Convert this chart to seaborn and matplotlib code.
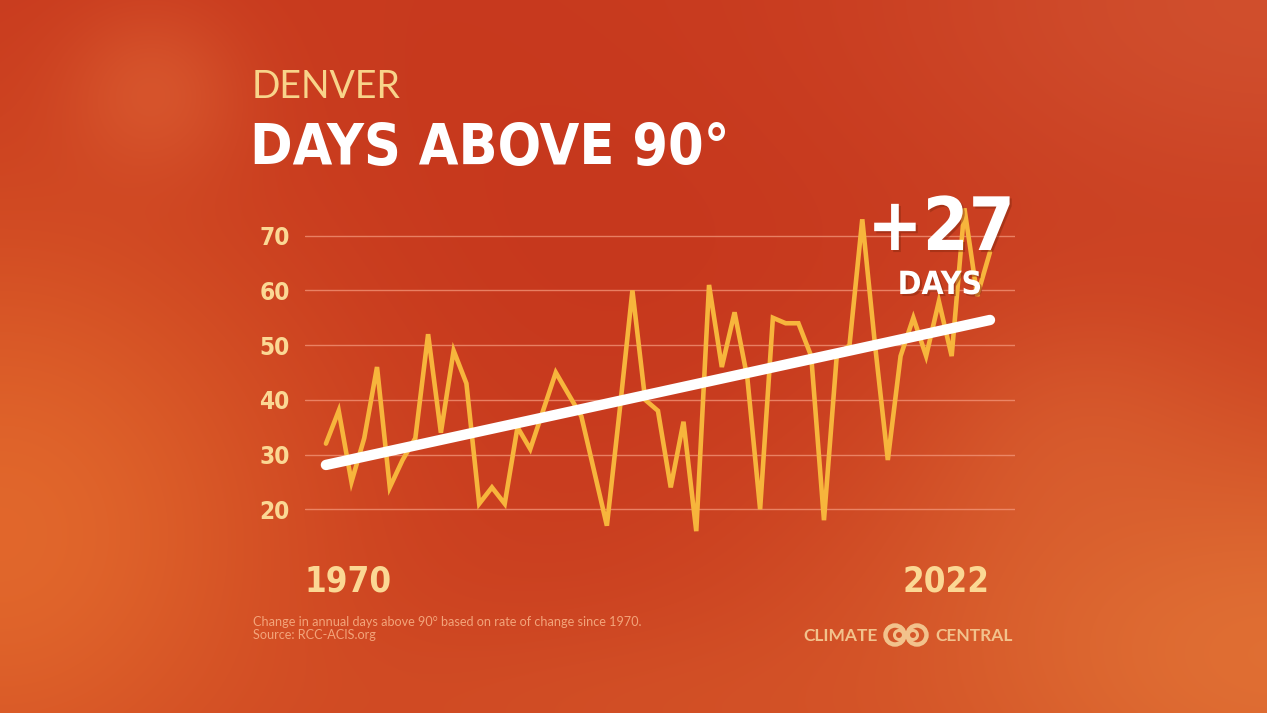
import numpy as np
import pandas as pd
import matplotlib
matplotlib.use("Agg")
import matplotlib.pyplot as plt
import seaborn as sns
from matplotlib import patheffects as pe
from matplotlib.patches import Circle

# ---------------- data ----------------
years = list(range(1970, 2023))
days = [32, 38, 25, 33, 46, 24, 29, 33, 52, 34,
        49, 43, 21, 24, 21, 35, 31, 38, 45, 41,
        37, 27, 17, 38, 60, 40, 38, 24, 36, 16,
        61, 46, 56, 44, 20, 55, 54, 54, 48, 18,
        48, 50, 73, 50, 29, 48, 55, 48, 58, 48,
        75, 59, 67]
trend_years = [1970, 2022]
trend_days = [28.1, 54.6]
y_ticks = [20, 30, 40, 50, 60, 70]
x_labels = ["1970", "2022"]
city = "DENVER"
title = "DAYS ABOVE 90°"
change_value = "+27"
change_unit = "DAYS"
note_lines = ["Change in annual days above 90° based on rate of change since 1970.",
              "Source: RCC-ACIS.org"]
brand_left = "CLIMATE"
brand_right = "CENTRAL"

df = pd.DataFrame({"year": years, "days": days})
trend = pd.DataFrame({"year": trend_years, "days": trend_days})

sns.set_theme(style="white")
plt.rcParams["font.family"] = ["DejaVu Sans"]
COND = dict(family="DejaVu Sans", fontstretch="condensed", fontweight="bold")

W, H = 1267, 713
fig = plt.figure(figsize=(W / 100, H / 100), dpi=100)

# ---------------- background ----------------
yy, xx = np.mgrid[0:H, 0:W]
u = xx / W
v = yy / H
img = np.ones((H, W, 3)) * np.array([200, 58, 30], float)
blobs = [
    (0.45, 0.35, 0.30, 0.30, (196, 52, 28), 0.5),
    (0.00, 0.75, 0.25, 0.45, (228, 108, 45), 0.9),
    (1.00, 0.92, 0.35, 0.35, (228, 120, 55), 0.85),
    (0.12, 0.13, 0.07, 0.12, (222, 98, 52), 0.6),
    (1.00, 0.00, 0.30, 0.30, (214, 92, 55), 0.6),
    (0.85, 0.62, 0.12, 0.20, (222, 104, 52), 0.45),
    (0.50, 1.00, 0.30, 0.15, (216, 92, 42), 0.5),
]
for cx, cy, rx, ry, col, s in blobs:
    g = s * np.exp(-(((u - cx) / rx) ** 2 + ((v - cy) / ry) ** 2))[..., None]
    img = img * (1 - g) + np.array(col, float) * g
bg = fig.add_axes([0, 0, 1, 1], zorder=0)
bg.imshow(np.clip(img, 0, 255).astype(np.uint8), aspect="auto", interpolation="bilinear")
bg.axis("off")

# ---------------- main axes ----------------
ax = fig.add_axes([305 / W, 1 - 542.1 / H, 710 / W, 361.1 / H], zorder=2)
ax.patch.set_alpha(0)
for s in ax.spines.values():
    s.set_visible(False)

sns.lineplot(data=df, x="year", y="days", ax=ax, color="#F7B53C", lw=3.3,
             solid_joinstyle="miter", zorder=3)
sns.lineplot(data=trend, x="year", y="days", ax=ax, color="white", lw=7.5,
             solid_capstyle="round", zorder=4)

ax.set_xlim(1968.36, 2023.96)
ax.set_ylim(14, 80)
ax.set_yticks(y_ticks)
ax.set_yticklabels([str(t) for t in y_ticks])
ax.set_xticks([])
ax.set_xlabel("")
ax.set_ylabel("")
ax.grid(axis="y", color="#F4977A", lw=1.0, alpha=0.75)
ax.tick_params(axis="y", length=0, pad=11, labelcolor="#FBD894")
for lbl in ax.get_yticklabels():
    lbl.set(fontsize=17.5, **COND)

ax.text(0, -0.138, x_labels[0], transform=ax.transAxes, ha="left", va="baseline",
        fontsize=25, color="#FBD894", **COND)
ax.text(2022, -0.138, x_labels[1], transform=ax.get_xaxis_transform(), ha="right",
        va="baseline", fontsize=25, color="#FBD894", **COND)

# ---------------- titles ----------------
fig.text(252 / W, 1 - 98 / H, city, fontsize=27, color="#F8D48A", family=["Lato", "DejaVu Sans"],
         ha="left", va="baseline")
fig.text(250 / W, 1 - 165 / H, title, fontsize=41, color="white",
         ha="left", va="baseline", **COND)

shadow = [pe.withSimplePatchShadow(offset=(1.5, -1.5), shadow_rgbFace="#8A2A10", alpha=0.5)]
fig.text(941 / W, 1 - 250 / H, change_value, fontsize=53, color="white",
         ha="center", va="baseline", path_effects=shadow, zorder=5, **COND)
fig.text(940 / W, 1 - 294 / H, change_unit, fontsize=23, color="white",
         ha="center", va="baseline", path_effects=shadow, zorder=5, **COND)

# ---------------- footer ----------------
fig.text(253 / W, 1 - 626 / H, note_lines[0], fontsize=9.1, color="#F3A47A",
         family=["Lato", "DejaVu Sans"], ha="left", va="baseline")
fig.text(253 / W, 1 - 639 / H, note_lines[1], fontsize=9.1, color="#F3A47A",
         family=["Lato", "DejaVu Sans"], ha="left", va="baseline")

logo_col = "#F2C28C"
fig.text(878 / W, 1 - 641 / H, brand_left, fontsize=12.5, fontweight="bold", color=logo_col,
         family=["Lato", "DejaVu Sans"], ha="right", va="baseline")
fig.text(935 / W, 1 - 641 / H, brand_right, fontsize=12.5, fontweight="bold", color=logo_col,
         family=["Lato", "DejaVu Sans"], ha="left", va="baseline")
logo_ax = fig.add_axes([880 / W, 1 - 648 / H, 52 / W, 26 / H], zorder=3)
logo_ax.set_xlim(0, 52)
logo_ax.set_ylim(0, 26)
logo_ax.set_aspect("equal")
logo_ax.axis("off")
for cx in (15, 37):
    logo_ax.add_patch(Circle((cx, 13), 9.5, fill=False, ec=logo_col, lw=3.2))
for cx in (19, 33):
    logo_ax.add_patch(Circle((cx, 13), 4.5, fill=False, ec=logo_col, lw=2.2))

fig.savefig("out.png", dpi=100)
